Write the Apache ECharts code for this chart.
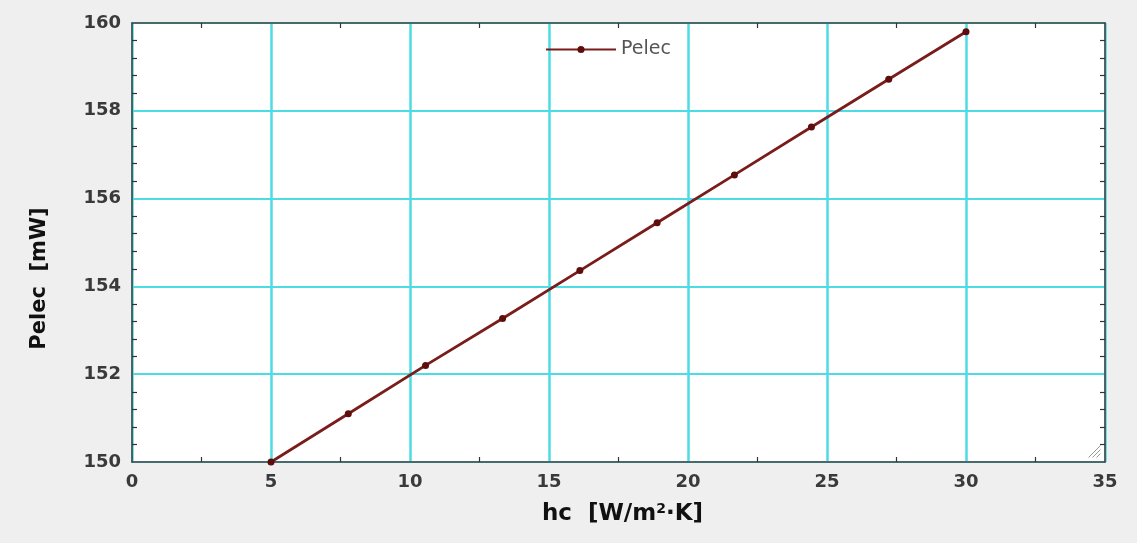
<!DOCTYPE html>
<html>
<head>
<meta charset="utf-8">
<script src="https://cdn.jsdelivr.net/npm/echarts@6/dist/echarts.min.js"></script>
<style>
html,body{margin:0;padding:0;background:#efefef;}
#chart{width:1137px;height:543px;}
</style>
</head>
<body>
<div id="chart"></div>
<script>
// ---- data ----
const hcValues = [5.0, 7.78, 10.56, 13.33, 16.11, 18.89, 21.67, 24.44, 27.22, 30.0];
const pelecValues = [150.0, 151.1, 152.2, 153.27, 154.36, 155.45, 156.54, 157.63, 158.72, 159.8];
const seriesName = 'Pelec';
const xTitle = 'hc  [W/m{sup|2}·K]';
const yTitle = 'Pelec  [mW]';
const xRange = [0, 35, 5];
const yRange = [150, 160, 2];

const chart = echarts.init(document.getElementById('chart'));
const labelFont = {color:'#3a3a3a', fontFamily:'DejaVu Sans', fontWeight:'bold', fontSize:18};
const cyan = '#4cdce4';
const frame = {show:true, onZero:false, lineStyle:{color:'#454545', width:1.6}};

const baseX = {
  type:'value', min:xRange[0], max:xRange[1], interval:xRange[2],
  axisLine:frame, axisTick:{show:false},
  minorTick:{show:true, splitNumber:2, length:-5, lineStyle:{color:'#333', width:1.2}},
  minorSplitLine:{show:false}
};
const baseY = {
  type:'value', min:yRange[0], max:yRange[1], interval:yRange[2],
  axisLine:frame, axisTick:{show:false},
  minorTick:{show:true, splitNumber:5, length:-5, lineStyle:{color:'#333', width:1.2}},
  minorSplitLine:{show:false}
};

const data = hcValues.map((x,i)=>[x, pelecValues[i]]);

chart.setOption({
  backgroundColor:'#efefef',
  animation:false,
  grid:{left:132, right:32, top:23, bottom:81, show:true, backgroundColor:'#ffffff', borderWidth:0},
  legend:{
    data:[seriesName], left:540, top:35, itemWidth:70, itemHeight:9, itemGap:4,
    textStyle:{color:'#555', fontFamily:'DejaVu Sans', fontSize:19}
  },
  xAxis:[
    Object.assign({}, baseX, {
      position:'bottom',
      axisLabel:Object.assign({margin:11}, labelFont),
      splitLine:{show:true, lineStyle:{color:cyan, width:2.5}},
      name:xTitle, nameLocation:'middle', nameGap:40,
      nameTextStyle:{color:'#111', fontFamily:'DejaVu Sans', fontWeight:'bold', fontSize:23,
        padding:[0,0,0,8],
        rich:{sup:{fontSize:14, fontWeight:'bold', color:'#111', fontFamily:'DejaVu Sans', verticalAlign:'top', padding:[0,0,11,0]}}}
    }),
    Object.assign({}, baseX, {position:'top', axisLabel:{show:false}, splitLine:{show:false}})
  ],
  yAxis:[
    Object.assign({}, baseY, {
      position:'left',
      axisLabel:Object.assign({margin:11}, labelFont),
      splitLine:{show:true, lineStyle:{color:cyan, width:2}},
      name:yTitle, nameLocation:'middle', nameGap:82, nameRotate:90,
      nameTextStyle:{color:'#111', fontFamily:'DejaVu Sans', fontWeight:'bold', fontSize:21, padding:[0,72,0,0]}
    }),
    Object.assign({}, baseY, {position:'right', axisLabel:{show:false}, splitLine:{show:false}})
  ],
  series:[{
    name:seriesName, type:'line', data:data, clip:false,
    symbol:'circle', symbolSize:7,
    itemStyle:{color:'#5e0d0d'},
    lineStyle:{color:'#7a1c1c', width:2.8},
    z:5
  }],
  graphic:[{
    type:'group', right:34, bottom:83,
    children:[
      {type:'line', shape:{x1:0,y1:12,x2:12,y2:0}, style:{stroke:'#999', lineWidth:1}},
      {type:'line', shape:{x1:4,y1:12,x2:12,y2:4}, style:{stroke:'#999', lineWidth:1}},
      {type:'line', shape:{x1:8,y1:12,x2:12,y2:8}, style:{stroke:'#999', lineWidth:1}}
    ]
  }]
});
</script>
</body>
</html>
